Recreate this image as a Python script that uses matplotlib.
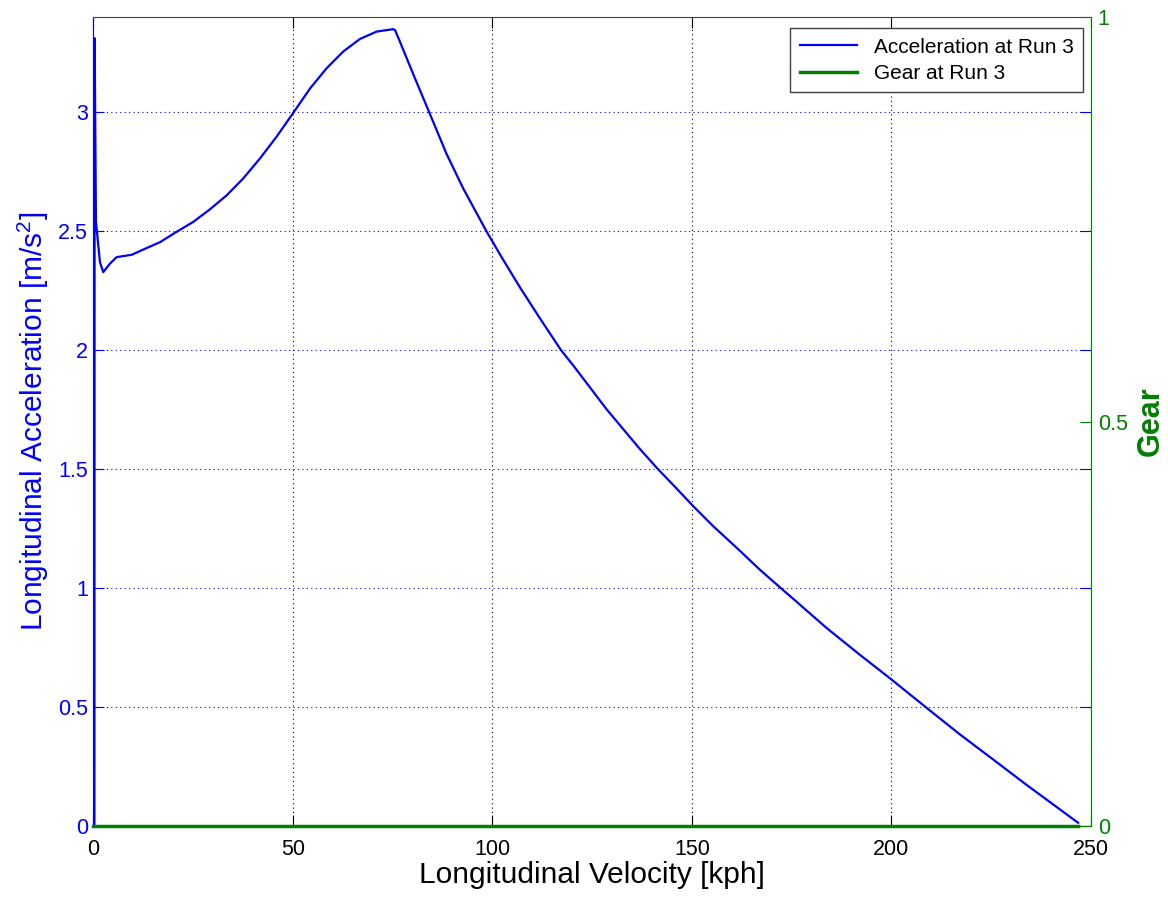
import matplotlib
matplotlib.use('Agg')
import matplotlib.pyplot as plt

plt.rcParams['font.family'] = ['Liberation Sans', 'DejaVu Sans']
plt.rcParams['mathtext.fontset'] = 'custom'
plt.rcParams['mathtext.rm'] = 'Liberation Sans'
plt.rcParams['mathtext.it'] = 'Liberation Sans'

# velocity [kph] and longitudinal acceleration [m/s^2]
velocity = [0.25, 0.3, 0.63, 1.63, 2.46, 4.1, 5.8, 9.6, 13.3, 16.7, 20.8, 25.0,
            29.2, 33.4, 37.5, 41.7, 45.9, 50.1, 54.3, 58.4, 62.6, 66.8, 71.0,
            75.1, 75.6, 76.8, 80.4, 84.2, 88.5, 92.7, 98.5, 102.3, 106.9,
            111.9, 117.2, 120.3, 128.6, 137.0, 141.5, 146.2, 150.3, 155.3,
            161.2, 167.0, 172.3, 175.4, 183.8, 192.1, 200.1, 208.6, 217.2,
            225.5, 233.9, 246.8]
accel = [0.0, 3.311, 2.541, 2.370, 2.328, 2.363, 2.391, 2.401, 2.429, 2.454,
         2.497, 2.539, 2.592, 2.651, 2.721, 2.805, 2.897, 2.998, 3.100, 3.184,
         3.255, 3.308, 3.339, 3.349, 3.345, 3.297, 3.150, 2.998, 2.825, 2.679,
         2.500, 2.391, 2.264, 2.134, 2.000, 1.935, 1.752, 1.584, 1.500, 1.418,
         1.345, 1.261, 1.170, 1.078, 1.000, 0.955, 0.832, 0.720, 0.615, 0.500,
         0.385, 0.280, 0.173, 0.014]

# gear stays at 0 over the whole run
gear_velocity = [0, 246.8]
gear = [0, 0]

blue = '#0000ff'
green = '#008000'

fig = plt.figure(figsize=(11.68, 8.97), dpi=100)
ax = fig.add_axes([0.080, 0.079, 0.854, 0.902])
ax2 = ax.twinx()

l1, = ax.plot(velocity, accel, color=blue, lw=1.6, label='Acceleration at Run 3')
l2, = ax2.plot(gear_velocity, gear, color=green, lw=2.5, label='Gear at Run 3',
               clip_on=False)

ax.set_xlim(0, 250)
ax.set_ylim(0, 3.4)
ax2.set_ylim(0, 1)
ax.set_xticks([0, 50, 100, 150, 200, 250])
ax.set_yticks([0, 0.5, 1, 1.5, 2, 2.5, 3])
ax.set_yticklabels(['0', '0.5', '1', '1.5', '2', '2.5', '3'])
ax2.set_yticks([0, 0.5, 1])
ax2.set_yticklabels(['0', '0.5', '1'])

ax.xaxis.grid(True, color='k', linestyle=(0, (1, 3)), lw=0.8)
ax.yaxis.grid(True, color=blue, linestyle=(0, (1, 3)), lw=0.8)

ax.tick_params(axis='x', direction='in', length=8, labelsize=15.5, top=True,
               colors='k', pad=9)
ax.tick_params(axis='y', direction='in', length=8, labelsize=15.5, right=True,
               colors=blue, pad=4)
ax2.tick_params(axis='y', direction='in', length=8, labelsize=15.5,
                colors=green, pad=5)

ax.spines['left'].set_color(blue)
ax.spines['bottom'].set_color('k')
ax.spines['top'].set_color('#404040')
ax.spines['right'].set_visible(False)
ax2.spines['right'].set_color(green)
ax2.spines['left'].set_visible(False)
ax2.spines['top'].set_visible(False)
ax2.spines['bottom'].set_visible(False)

ax.set_xlabel('Longitudinal Velocity [kph]', fontsize=21.5, labelpad=1)
ax.set_ylabel(r'Longitudinal Acceleration [m/s$^2$]', fontsize=21.5, color=blue,
              labelpad=5)
ax2.set_ylabel('Gear', fontsize=22, color=green, fontweight='bold', labelpad=6)

leg = ax2.legend([l1, l2], ['Acceleration at Run 3', 'Gear at Run 3'],
                 loc='upper right', bbox_to_anchor=(0.992, 0.986),
                 borderaxespad=0, fontsize=15, fancybox=False,
                 edgecolor='#404040', framealpha=1,
                 handlelength=2.75, borderpad=0.45, labelspacing=0.35)
leg.get_frame().set_linewidth(1.0)

fig.savefig('out.png', dpi=100)
